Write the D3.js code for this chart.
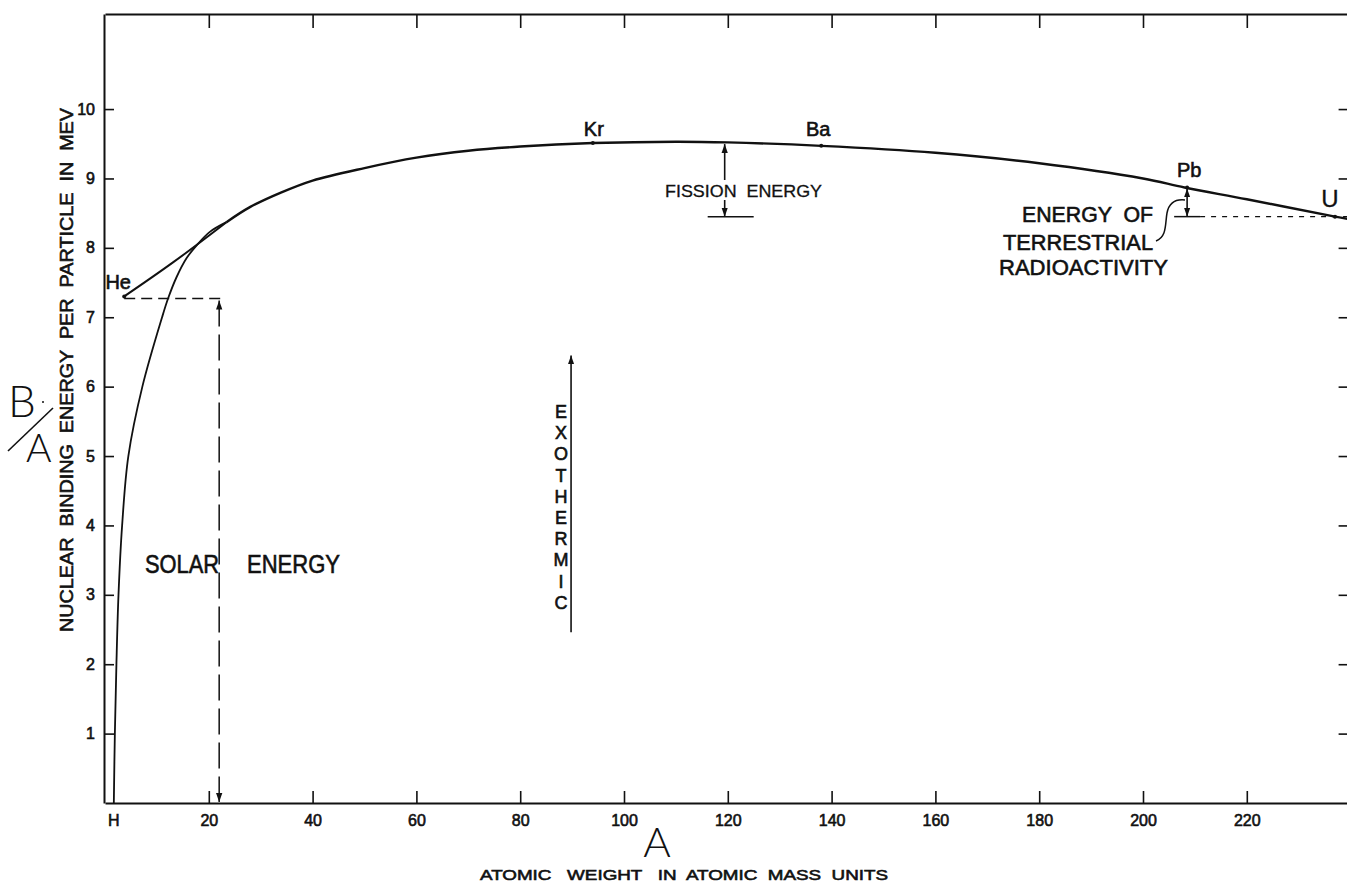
<!DOCTYPE html>
<html>
<head>
<meta charset="utf-8">
<script src="https://cdn.jsdelivr.net/npm/d3@7"></script>
<style>
  body { margin: 0; background: #fff; }
  text { font-family: "Liberation Sans", Arial, sans-serif; fill: #111; }
  .med { stroke: #111; stroke-width: 0.6px; }
</style>
</head>
<body>
<div id="chart"></div>
<script>
// Axis ticks
var xTicks = [1.6, 20, 40, 60, 80, 100, 120, 140, 160, 180, 200, 220];
var xTickLabels = ["H", "20", "40", "60", "80", "100", "120", "140", "160", "180", "200", "220"];
var yTicks = [1, 2, 3, 4, 5, 6, 7, 8, 9, 10];

// Light nuclei branch, from H up to where it meets the main curve
var lightA  = [1.7, 1.9, 2.2, 2.6, 3.3, 4.5, 7.2, 11.0, 12.2, 13.8, 15.7, 17.7, 20.2, 23.4];
var lightBA = [0, 1, 2, 3, 4, 5, 6, 7.0, 7.28, 7.58, 7.85, 8.04, 8.23, 8.37];

// He straight line to the main curve
var heA  = [3.7, 13.1, 23.4];
var heBA = [7.3, 7.79, 8.37];

// Main binding energy curve
var mainA  = [23.4, 28, 34, 40, 50, 60, 70, 80, 94, 110, 120, 138, 160, 180, 200, 208, 220, 237, 240];
var mainBA = [8.37, 8.59, 8.8, 8.97, 9.15, 9.3, 9.4, 9.46, 9.51, 9.53, 9.52, 9.47, 9.37, 9.22, 9.0, 8.87, 8.7, 8.45, 8.41];

// Named nuclei
var elements = ["He", "Kr", "Ba", "Pb", "U"];
var elemA    = [3.7, 94, 138, 208.5, 237];
var elemBA   = [7.3, 9.51, 9.47, 8.87, 8.45];

// Energy levels used by the annotations
var solarA = 22, solarTop = 7.27;
var fissionA = 119.4, fissionTop = 9.51, fissionBottom = 8.45;
var pbLevel = 8.45;
var exoA = 89.8, exoFrom = 2.46, exoTo = 6.45;

var W = 1347, H = 884;

var svg = d3.select("#chart")
            .append("svg")
            .attr("width", W)
            .attr("height", H)
            .style("display", "block");

// Scales
var x = d3.scaleLinear().domain([0, 240]).range([105, 1350.6]);
var y = d3.scaleLinear().domain([0, 11.37]).range([803, 14]);

// Arrow marker
var defs = svg.append("defs");
defs.append("marker")
    .attr("id", "head")
    .attr("viewBox", "0 0 10 10")
    .attr("refX", 10).attr("refY", 5)
    .attr("markerWidth", 9).attr("markerHeight", 9)
    .attr("markerUnits", "userSpaceOnUse")
    .attr("orient", "auto-start-reverse")
    .append("path")
    .attr("d", "M0,1.5 L10,5 L0,8.5 Z")
    .attr("fill", "#111");

// Axes
var bottomAxis = d3.axisBottom(x).tickValues(xTicks).tickSize(-12).tickSizeOuter(0).tickPadding(20)
                   .tickFormat(function(d, i) { return xTickLabels[i]; });
var gB = svg.append("g").attr("transform", "translate(0," + y(0) + ")").call(bottomAxis);

var topAxis = d3.axisTop(x).tickValues(xTicks.slice(1)).tickSize(-14).tickSizeOuter(0).tickFormat("");
var gT = svg.append("g").attr("transform", "translate(0," + y(11.37) + ")").call(topAxis);

var leftAxis = d3.axisLeft(y).tickValues(yTicks).tickSize(-10).tickSizeOuter(0).tickPadding(9);
var gL = svg.append("g").attr("transform", "translate(" + 104 + ",0)").call(leftAxis);

var rightAxis = d3.axisRight(y).tickValues(yTicks).tickSize(-12).tickSizeOuter(0).tickFormat("");
var gR = svg.append("g").attr("transform", "translate(" + x(240) + ",0)").call(rightAxis);

[gB, gT, gL, gR].forEach(function(g) {
    g.selectAll("path.domain").attr("stroke", "#111").attr("stroke-width", 2);
    g.selectAll("line").attr("stroke", "#111").attr("stroke-width", 1.6);
    g.selectAll("text").style("font-family", "'Liberation Sans', Arial, sans-serif")
     .style("font-size", "16px").attr("fill", "#111").attr("class", "med");
});
gB.selectAll(".tick").filter(function(d, i) { return i === 0; }).select("line").remove();
gB.selectAll("text").attr("dy", "0.2em");

// Curves
var line = d3.line().x(function(d) { return x(d[0]); }).y(function(d) { return y(d[1]); })
             .curve(d3.curveCatmullRom.alpha(0.5));

svg.append("path").datum(d3.zip(lightA, lightBA)).attr("d", line)
   .attr("fill", "none").attr("stroke", "#111").attr("stroke-width", 1.8);
svg.append("path").datum(d3.zip(heA, heBA)).attr("d", line)
   .attr("fill", "none").attr("stroke", "#111").attr("stroke-width", 2);
svg.append("path").datum(d3.zip(mainA, mainBA)).attr("d", line)
   .attr("fill", "none").attr("stroke", "#111").attr("stroke-width", 2.4);

// Element dots and labels
var lblOff = { "He": [-6, -7], "Kr": [1, -7], "Ba": [-3, -10], "Pb": [2, -10], "U": [-5, -10] };
svg.append("g").selectAll("circle").data(elements).enter().append("circle")
   .attr("cx", function(d, i) { return x(elemA[i]); })
   .attr("cy", function(d, i) { return y(elemBA[i]); })
   .attr("r", 2).attr("fill", "#111");
svg.append("g").selectAll("text").data(elements).enter().append("text")
   .attr("class", "med")
   .attr("x", function(d, i) { return x(elemA[i]) + lblOff[d][0]; })
   .attr("y", function(d, i) { return y(elemBA[i]) + lblOff[d][1]; })
   .attr("text-anchor", "middle")
   .style("font-size", function(d) { return d === "U" ? "24px" : "20px"; })
   .style("stroke-width", function(d) { return d === "U" ? "0.3px" : null; })
   .text(function(d) { return d; });

// Solar energy: dashed level and dashed double arrow
svg.append("line")
   .attr("x1", x(elemA[0])).attr("x2", x(23.3))
   .attr("y1", y(solarTop)).attr("y2", y(solarTop))
   .attr("stroke", "#111").attr("stroke-width", 1.5).attr("stroke-dasharray", "11 6");
svg.append("line")
   .attr("x1", x(solarA)).attr("x2", x(solarA))
   .attr("y1", y(solarTop) + 2).attr("y2", y(0) - 1)
   .attr("stroke", "#111").attr("stroke-width", 1.5).attr("stroke-dasharray", "26 8")
   .attr("marker-start", "url(#head)").attr("marker-end", "url(#head)");
svg.append("text").attr("class", "med").attr("x", 145).attr("y", 573).attr("textLength", 74)
   .attr("lengthAdjust", "spacingAndGlyphs").style("font-size", "25px").text("SOLAR");
svg.append("text").attr("class", "med").attr("x", 247).attr("y", 573).attr("textLength", 93)
   .attr("lengthAdjust", "spacingAndGlyphs").style("font-size", "25px").text("ENERGY");

// Fission energy
svg.append("line")
   .attr("x1", x(fissionA)).attr("x2", x(fissionA))
   .attr("y1", y(fissionTop) + 1).attr("y2", y(fissionBottom))
   .attr("stroke", "#111").attr("stroke-width", 1.6)
   .attr("marker-start", "url(#head)").attr("marker-end", "url(#head)");
svg.append("line")
   .attr("x1", x(fissionA) - 17).attr("x2", x(fissionA) + 29)
   .attr("y1", y(fissionBottom)).attr("y2", y(fissionBottom))
   .attr("stroke", "#111").attr("stroke-width", 1.5);
svg.append("rect").attr("x", 664).attr("y", 180).attr("width", 160).attr("height", 20).attr("fill", "#fff");
svg.append("text").attr("class", "med").attr("x", 665).attr("y", 197).attr("textLength", 157)
   .attr("lengthAdjust", "spacingAndGlyphs")
   .style("font-size", "17px").style("stroke-width", "0.3px").style("white-space", "pre").text("FISSION  ENERGY");

// Terrestrial radioactivity
svg.append("line")
   .attr("x1", x(elemA[3])).attr("x2", x(elemA[3]))
   .attr("y1", y(elemBA[3]) + 1).attr("y2", y(pbLevel))
   .attr("stroke", "#111").attr("stroke-width", 1.6)
   .attr("marker-start", "url(#head)").attr("marker-end", "url(#head)");
svg.append("line")
   .attr("x1", x(206)).attr("x2", x(211))
   .attr("y1", y(pbLevel)).attr("y2", y(pbLevel))
   .attr("stroke", "#111").attr("stroke-width", 1.5);
svg.append("line")
   .attr("x1", x(211)).attr("x2", x(240))
   .attr("y1", y(pbLevel)).attr("y2", y(pbLevel))
   .attr("stroke", "#111").attr("stroke-width", 1.4).attr("stroke-dasharray", "5 6");
svg.append("path")
   .attr("d", "M1156,241 C1167,237 1165,224 1167,213 C1169,203 1176,199 1185,200")
   .attr("fill", "none").attr("stroke", "#111").attr("stroke-width", 1.5);
var terr = [["ENERGY  OF", 1022, 222, 131], ["TERRESTRIAL", 1003, 250, 150], ["RADIOACTIVITY", 999, 275, 169]];
svg.append("g").selectAll("text").data(terr).enter().append("text")
   .attr("class", "med")
   .attr("x", function(d) { return d[1]; }).attr("y", function(d) { return d[2]; })
   .attr("textLength", function(d) { return d[3]; })
   .attr("lengthAdjust", "spacingAndGlyphs")
   .style("font-size", "22px").style("white-space", "pre")
   .text(function(d) { return d[0]; });

// Exothermic arrow
svg.append("line")
   .attr("x1", x(exoA)).attr("x2", x(exoA))
   .attr("y1", y(exoFrom)).attr("y2", y(exoTo))
   .attr("stroke", "#111").attr("stroke-width", 1.6)
   .attr("marker-end", "url(#head)");
svg.append("g").selectAll("text").data("EXOTHERMIC".split("")).enter().append("text")
   .attr("class", "med")
   .attr("x", 561)
   .attr("y", function(d, i) { return 418 + i * 21.2; })
   .attr("text-anchor", "middle")
   .style("font-size", "18px")
   .text(function(d) { return d; });

// Axis titles
svg.append("text")
   .attr("class", "med")
   .attr("transform", "translate(73,370) rotate(-90)")
   .attr("text-anchor", "middle")
   .attr("textLength", 524)
   .attr("lengthAdjust", "spacingAndGlyphs")
   .style("font-size", "19px")
   .style("white-space", "pre")
   .text("NUCLEAR  BINDING  ENERGY  PER  PARTICLE  IN  MEV");

svg.append("text").attr("x", 8).attr("y", 417)
   .style("font-family", "Lato, 'DejaVu Sans', sans-serif").style("font-weight", 300)
   .style("font-size", "44px").text("B");
svg.append("text").attr("x", 26).attr("y", 462)
   .style("font-family", "Lato, 'DejaVu Sans', sans-serif").style("font-weight", 300)
   .style("font-size", "39px").text("A");
svg.append("line").attr("x1", 8).attr("y1", 451).attr("x2", 53).attr("y2", 408)
   .attr("stroke", "#111").attr("stroke-width", 1.6);
svg.append("circle").attr("cx", 43).attr("cy", 402).attr("r", 1).attr("fill", "#111");

svg.append("text").attr("x", 657).attr("y", 857).attr("text-anchor", "middle")
   .style("font-family", "Lato, 'DejaVu Sans', sans-serif").style("font-weight", 300)
   .style("font-size", "42px").text("A");
svg.append("text").attr("class", "med").attr("x", 480).attr("y", 880).attr("textLength", 408)
   .attr("lengthAdjust", "spacingAndGlyphs")
   .style("font-size", "15.5px").style("white-space", "pre")
   .text("ATOMIC   WEIGHT   IN  ATOMIC  MASS  UNITS");
</script>
</body>
</html>
